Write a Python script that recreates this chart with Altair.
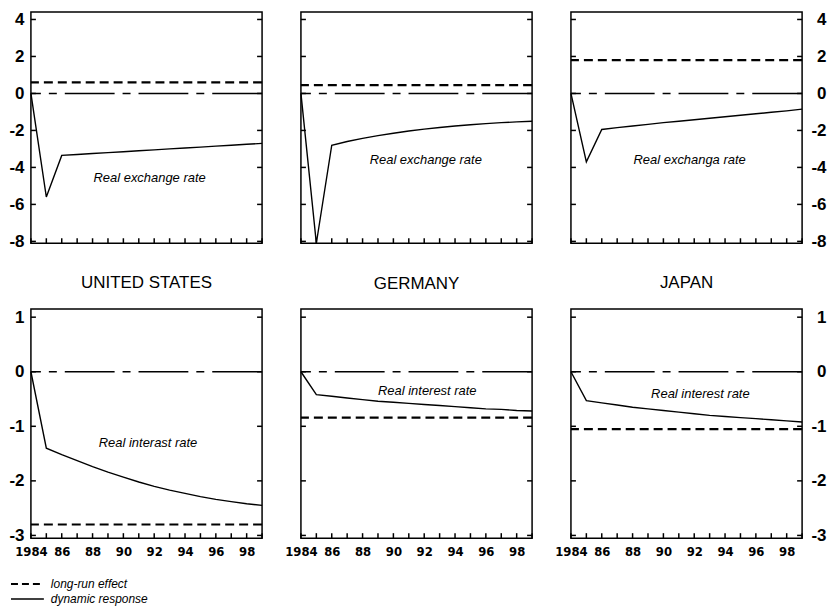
import altair as alt
import pandas as pd

# ---------------- data ----------------
years = list(range(1984, 2000))
countries = ["UNITED STATES", "GERMANY", "JAPAN"]

fx_us = [0, -5.6, -3.35, -3.30, -3.25, -3.20, -3.15, -3.10, -3.05, -3.00, -2.95, -2.90, -2.85, -2.80, -2.75, -2.70]
fx_de = [0, -8.1, -2.80, -2.60, -2.43, -2.28, -2.15, -2.03, -1.93, -1.84, -1.76, -1.69, -1.63, -1.58, -1.54, -1.50]
fx_jp = [0, -3.7, -1.95, -1.85, -1.76, -1.67, -1.58, -1.50, -1.42, -1.34, -1.26, -1.18, -1.10, -1.02, -0.94, -0.85]

ir_us = [0, -1.40, -1.52, -1.63, -1.74, -1.84, -1.93, -2.02, -2.10, -2.17, -2.23, -2.29, -2.34, -2.38, -2.42, -2.45]
ir_de = [0, -0.42, -0.45, -0.48, -0.51, -0.54, -0.56, -0.58, -0.60, -0.62, -0.64, -0.66, -0.68, -0.69, -0.71, -0.72]
ir_jp = [0, -0.53, -0.57, -0.61, -0.65, -0.68, -0.71, -0.74, -0.77, -0.80, -0.82, -0.84, -0.86, -0.88, -0.90, -0.92]

fx_longrun = [0.6, 0.45, 1.8]
ir_longrun = [-2.8, -0.84, -1.05]

fx_labels = ["Real exchange rate", "Real exchange rate", "Real exchanga rate"]
ir_labels = ["Real interast rate", "Real interest rate", "Real interest rate"]
# annotation anchors (data coordinates)
fx_label_at = [(1991.7, -4.55), (1992.1, -3.6), (1991.7, -3.6)]
ir_label_at = [(1991.6, -1.3), (1992.2, -0.35), (1992.4, -0.4)]

fx_ticks = [-8, -6, -4, -2, 0, 2, 4]
ir_ticks = [-3, -2, -1, 0, 1]
x_label_years = [1984, 1986, 1988, 1990, 1992, 1994, 1996, 1998]
legend_items = ["long-run effect", "dynamic response"]

# ---------------- layout / style ----------------
W = 232
H_TOP = 232
H_BOT = 230
XDOM = [1984, 1999]
FX_DOM = [-8.1, 4.4]
IR_DOM = [-3.05, 1.15]
FONT = "Liberation Sans"
XFONT = "'DejaVu Sans Condensed', 'Liberation Sans', sans-serif"
DASH_LR = [9, 5]
DASH_ZERO = [50, 8, 8, 8]


def panel(values, longrun, label, label_at, ydom, yticks, H, col, bottom_row, title=None, legend=False):
    xscale = alt.Scale(domain=XDOM, nice=False, zero=False)
    yscale = alt.Scale(domain=ydom, nice=False, zero=False)

    if bottom_row:
        xaxis = alt.Axis(values=x_label_years,
                         labelExpr="datum.value == 1984 ? '1984' : slice(toString(datum.value), 2)",
                         ticks=False, domain=False, grid=False, title=None,
                         labelFont=XFONT, labelFontWeight="bold",
                         labelFontSize=13, labelPadding=7, labelColor="black",
                         labelFlush=False, labelOverlap=False, labelBound=False)
    else:
        xaxis = None

    common_y = dict(values=yticks, ticks=False, domain=False, grid=False, title=None,
                    labelExpr="toString(datum.value)", labelFont=FONT,
                    labelFontWeight="bold", labelFontSize=17, labelColor="black",
                    labelFlush=False, labelOverlap=False)
    if col == 0:
        yaxis = alt.Axis(orient="left", labelPadding=7, minExtent=22, maxExtent=22, **common_y)
    elif col == 2:
        yaxis = alt.Axis(orient="right", labelAlign="right", labelPadding=24,
                         minExtent=26, maxExtent=26, **common_y)
    else:
        yaxis = None

    Y = lambda f: alt.Y(f, scale=yscale, axis=yaxis)
    X = lambda f: alt.X(f, scale=xscale, axis=xaxis)

    df = pd.DataFrame({"year": years, "value": values})
    line = alt.Chart(df).mark_line(color="black", strokeWidth=1.4).encode(
        x=X("year:Q"), y=Y("value:Q"))

    lr = alt.Chart(pd.DataFrame({"v": [longrun]})).mark_rule(
        color="black", strokeWidth=2.2, strokeDash=DASH_LR).encode(y=Y("v:Q"))
    zero = alt.Chart(pd.DataFrame({"v": [0]})).mark_rule(
        color="black", strokeWidth=1.6, strokeDash=DASH_ZERO).encode(y=Y("v:Q"))
    txt = alt.Chart(pd.DataFrame({"x": [label_at[0]], "y": [label_at[1]], "t": [label]})).mark_text(
        font=FONT, fontStyle="italic", fontSize=13, color="black", align="center", baseline="middle"
    ).encode(x=X("x:Q"), y=Y("y:Q"), text="t:N")

    tdf = pd.DataFrame({"v": yticks})
    lt = alt.Chart(tdf).mark_rule(color="black", strokeWidth=1.5).encode(
        y=Y("v:Q"), x=alt.value(0), x2=alt.value(5))
    rt = alt.Chart(tdf).mark_rule(color="black", strokeWidth=1.5).encode(
        y=Y("v:Q"), x=alt.value(W - 5), x2=alt.value(W))
    bt = alt.Chart(pd.DataFrame({"yr": years})).mark_rule(color="black", strokeWidth=1.5).encode(
        x=X("yr:Q"), y=alt.value(H - 5), y2=alt.value(H))

    layers = [line, zero, lr, txt, lt, rt, bt]

    if legend:
        ly = [H + 46, H + 61]
        l1 = alt.Chart(pd.DataFrame({"a": [0]})).mark_rule(
            color="black", strokeWidth=2, strokeDash=[7, 4]).encode(
            x=alt.value(-20), x2=alt.value(13), y=alt.value(ly[0]))
        l2 = alt.Chart(pd.DataFrame({"a": [0]})).mark_rule(
            color="black", strokeWidth=1.4).encode(
            x=alt.value(-20), x2=alt.value(13), y=alt.value(ly[1]))
        t1 = alt.Chart(pd.DataFrame({"t": [legend_items[0]]})).mark_text(
            font=FONT, fontStyle="italic", fontSize=12, color="black", align="left", baseline="middle"
        ).encode(x=alt.value(20), y=alt.value(ly[0]), text="t:N")
        t2 = alt.Chart(pd.DataFrame({"t": [legend_items[1]]})).mark_text(
            font=FONT, fontStyle="italic", fontSize=12, color="black", align="left", baseline="middle"
        ).encode(x=alt.value(20), y=alt.value(ly[1]), text="t:N")
        layers += [l1, l2, t1, t2]

    props = dict(width=W, height=H)
    if title:
        props["title"] = alt.TitleParams(title, fontSize=17, fontWeight="normal", font=FONT,
                                         color="black", offset=16, anchor="middle")
    return alt.layer(*layers).properties(**props)


top = [panel(v, lr, lab, at, FX_DOM, fx_ticks, H_TOP, i, False)
       for i, (v, lr, lab, at) in enumerate(zip([fx_us, fx_de, fx_jp], fx_longrun, fx_labels, fx_label_at))]
bot = [panel(v, lr, lab, at, IR_DOM, ir_ticks, H_BOT, i, True, title=countries[i], legend=(i == 0))
       for i, (v, lr, lab, at) in enumerate(zip([ir_us, ir_de, ir_jp], ir_longrun, ir_labels, ir_label_at))]

row1 = alt.hconcat(*top, spacing=39, bounds="flush")
row2 = alt.hconcat(*bot, spacing=39, bounds="flush")

chart = alt.vconcat(row1, row2, spacing=23).properties(
    padding={"left": 0, "top": 0, "right": 0, "bottom": 0},
    background="white",
).configure_view(stroke="black", strokeWidth=1.5)

chart.save("out.html", embed_options={"renderer": "svg", "actions": False})
